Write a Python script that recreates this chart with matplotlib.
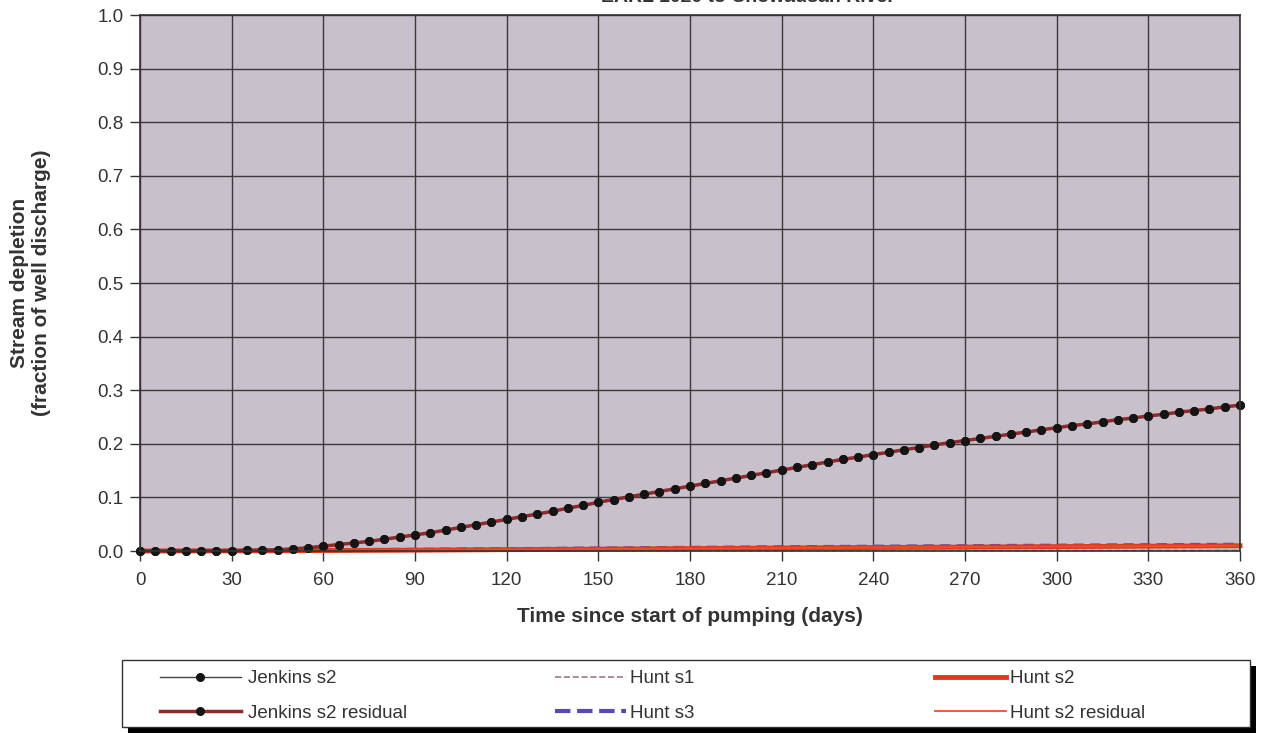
import numpy as np
import matplotlib.pyplot as plt
from matplotlib.patches import Rectangle
from matplotlib.lines import Line2D

plt.rcParams['font.family'] = ['Liberation Sans', 'DejaVu Sans']

# Jenkins solution, sampled every 5 days
jenkins_days = np.arange(0, 361, 5)
jenkins_s2 = [0.0, 0.0, 0.0, 0.0, 0.0, 0.0, 0.0005, 0.001, 0.0015, 0.002, 0.004, 0.006, 0.009,
              0.012, 0.015, 0.018, 0.022, 0.026, 0.030, 0.034, 0.039, 0.044, 0.049, 0.054, 0.059,
              0.064, 0.069, 0.074, 0.080, 0.085, 0.091, 0.096, 0.101, 0.106, 0.111, 0.116, 0.121,
              0.126, 0.131, 0.136, 0.141, 0.146, 0.151, 0.156, 0.161, 0.166, 0.171, 0.175, 0.180,
              0.184, 0.189, 0.193, 0.198, 0.202, 0.206, 0.210, 0.214, 0.218, 0.222, 0.226, 0.230,
              0.234, 0.237, 0.241, 0.245, 0.248, 0.252, 0.255, 0.259, 0.262, 0.265, 0.269, 0.272]
jenkins_s2_residual = list(jenkins_s2)

# Hunt solutions, sampled every 30 days
hunt_days = np.arange(0, 361, 30)
hunt_s1 = [0.0, 0.0, 0.0001, 0.0002, 0.0003, 0.0004, 0.0005, 0.0006, 0.0007, 0.0008, 0.0009, 0.001, 0.001]
hunt_s2 = [0.0, 0.0002, 0.0008, 0.0015, 0.0025, 0.0035, 0.0045, 0.0055, 0.0065, 0.0073, 0.0082, 0.009, 0.0098]
hunt_s3 = [0.0, 0.0004, 0.0012, 0.0022, 0.0034, 0.0046, 0.0058, 0.0069, 0.008, 0.009, 0.0099, 0.0108, 0.0116]
hunt_s2_residual = list(hunt_s2)

x_ticks = np.arange(0, 361, 30)
y_ticks = np.arange(0, 1.01, 0.1)

fig = plt.figure(figsize=(12.65, 7.33), dpi=100)
ax = fig.add_axes([140 / 1265, 1 - 551 / 733, 1100 / 1265, 536 / 733])
ax.set_facecolor('#c8c0ca')

ax.plot(hunt_days, hunt_s1, color='#9a7a8c', lw=1.2, ls=(0, (3, 2)), label='Hunt s1', clip_on=False)
ax.plot(hunt_days, hunt_s3, color='#5a48b0', lw=3, ls=(0, (2.5, 1.5)), label='Hunt s3', clip_on=False)
ax.plot(hunt_days, hunt_s2, color='#e2391c', lw=3.5, label='Hunt s2', clip_on=False)
ax.plot(hunt_days, hunt_s2_residual, color='#e8502e', lw=1.3, label='Hunt s2 residual', clip_on=False)
ax.plot(jenkins_days, jenkins_s2, color='#444444', lw=1, marker='o', ms=5.5,
        mfc='#151515', mec='#151515', label='Jenkins s2', clip_on=False)
ax.plot(jenkins_days, jenkins_s2_residual, color='#8e2a2a', lw=2.5, marker='o', ms=5.5,
        mfc='#151515', mec='#151515', label='Jenkins s2 residual', clip_on=False)

ax.set_xlim(0, 360)
ax.set_ylim(0, 1.0)
ax.set_xticks(x_ticks)
ax.set_yticks(y_ticks)
ax.set_yticklabels([f'{v:.1f}' for v in y_ticks])
ax.grid(True, color='#3a3a3a', lw=1)
ax.set_axisbelow(True)
ax.tick_params(direction='out', length=7, width=1, color='#333333', labelsize=13.5,
               labelcolor='#333333', pad=5)
ax.tick_params(axis='x', pad=8)
for s in ax.spines.values():
    s.set_color('#333333')
    s.set_linewidth(1.2)

ax.set_xlabel('Time since start of pumping (days)', fontsize=15, fontweight='bold',
              color='#333333', labelpad=13)
ax.set_ylabel('Stream depletion\n(fraction of well discharge)', fontsize=15,
              fontweight='bold', color='#333333', labelpad=33)

# title sits mostly above the top edge
fig.text(748 / 1265, 1 - 6 / 733, 'EARL 1020 to Chowausan River', ha='center', va='bottom',
         fontsize=14, fontweight='bold', color='#333333')

# legend frame with black drop shadow
fig.patches.append(Rectangle((128 / 1265, 0), 1128 / 1265, 67 / 733, transform=fig.transFigure,
                             facecolor='black', edgecolor='none', zorder=0))
fig.patches.append(Rectangle((122 / 1265, 6 / 733), 1128 / 1265, 67 / 733, transform=fig.transFigure,
                             facecolor='white', edgecolor='#333333', lw=1, zorder=1))

handles = {h.get_label(): h for h in ax.get_lines()}
columns = [
    (['Jenkins s2', 'Jenkins s2 residual'], 160, 4.3, 0.4),
    (['Hunt s1', 'Hunt s3'], 555, 3.8, 0.2),
    (['Hunt s2', 'Hunt s2 residual'], 935, 3.8, 0.2),
]
for labels, xpix, hl, pad in columns:
    hs = []
    for lab in labels:
        h = handles[lab]
        hs.append(Line2D([], [], color=h.get_color(), lw=h.get_linewidth(), ls=h.get_linestyle(),
                         marker=h.get_marker(), ms=h.get_markersize(), mfc='#151515', mec='#151515'))
    leg = fig.legend(hs, labels, loc='center left', bbox_to_anchor=(xpix / 1265, 1 - 696 / 733),
                     frameon=False, fontsize=13.5, handlelength=hl, handletextpad=pad,
                     labelspacing=0.95, borderaxespad=0, borderpad=0, markerscale=1)
    leg.set_zorder(3)
    for t in leg.get_texts():
        t.set_color('#333333')

fig.savefig('out.png', dpi=100)
